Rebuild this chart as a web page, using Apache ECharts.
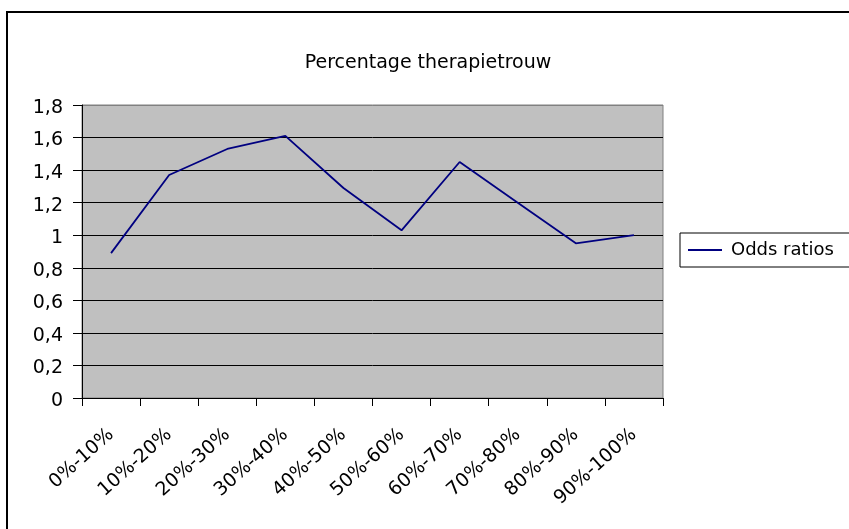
<!DOCTYPE html>
<html>
<head>
<meta charset="utf-8">
<script src="https://cdn.jsdelivr.net/npm/echarts@6/dist/echarts.min.js"></script>
<style>
  html, body { margin: 0; padding: 0; background: #fff; }
  #chart { width: 849px; height: 529px; }
</style>
</head>
<body>
<div id="chart"></div>
<script>
// categorieen en waarden
var categories = ['0%-10%', '10%-20%', '20%-30%', '30%-40%', '40%-50%',
                  '50%-60%', '60%-70%', '70%-80%', '80%-90%', '90%-100%'];
var oddsRatios = [0.89, 1.37, 1.53, 1.61, 1.29, 1.03, 1.45, 1.2, 0.95, 1.0];
var seriesName = 'Odds ratios';
var chartTitle = 'Percentage therapietrouw';

var font = 'DejaVu Sans, Arial, sans-serif';

// gridlijnen zwart, bovenste lijn grijs (rand van plotgebied)
var splitColors = [];
for (var i = 0; i < 10; i++) {
    splitColors.push(i == 9 ? '#808080' : '#000000');
}

var myChart = echarts.init(document.getElementById('chart'));
var option = {
    backgroundColor: '#ffffff',
    animation: false,
    title: {
        text: chartTitle,
        left: 423,
        top: 49,
        textAlign: 'center',
        textStyle: {
            fontFamily: font,
            fontSize: 19,
            fontWeight: 'normal',
            color: '#000'
        }
    },
    legend: {
        data: [seriesName],
        left: 680,
        top: 233,
        orient: 'vertical',
        borderColor: '#000',
        borderWidth: 1,
        padding: [8, 40, 8, 8],
        itemWidth: 34,
        itemHeight: 2,
        itemGap: 0,
        icon: 'rect',
        textStyle: {
            fontFamily: font,
            fontSize: 18,
            color: '#000',
            padding: [0, 0, 0, 4]
        }
    },
    grid: {
        left: 82,
        top: 105,
        width: 581,
        height: 293,
        show: true,
        backgroundColor: '#C0C0C0',
        borderColor: '#808080',
        borderWidth: 1
    },
    xAxis: {
        type: 'category',
        data: categories,
        boundaryGap: true,
        axisLine: { show: true, lineStyle: { color: '#000', width: 1 } },
        axisTick: { show: true, length: 8, alignWithLabel: false, lineStyle: { color: '#000' } },
        axisLabel: {
            interval: 0,
            rotate: 42,
            margin: 34,
            fontFamily: font,
            fontSize: 19,
            color: '#000'
        },
        splitLine: { show: false }
    },
    yAxis: {
        type: 'value',
        min: 0,
        max: 1.8,
        interval: 0.2,
        axisLine: { show: true, lineStyle: { color: '#000', width: 1 } },
        axisTick: { show: true, inside: false, length: 9, lineStyle: { color: '#000' } },
        axisLabel: {
            margin: 19,
            verticalAlign: 'top',
            lineHeight: 6,
            fontFamily: font,
            fontSize: 19,
            color: '#000',
            formatter: function (v) {
                return String(Math.round(v * 10) / 10).replace('.', ',');
            }
        },
        splitLine: { show: true, lineStyle: { color: splitColors, width: 1 } }
    },
    graphic: [{
        type: 'rect',
        shape: { x: 7, y: 12, width: 900, height: 600 },
        style: { fill: null, stroke: '#000', lineWidth: 2 },
        silent: true
    }],
    series: [{
        name: seriesName,
        type: 'line',
        data: oddsRatios,
        showSymbol: false,
        symbol: 'none',
        color: '#000080',
        lineStyle: { color: '#000080', width: 1.8 }
    }]
};
myChart.setOption(option);
</script>
</body>
</html>
